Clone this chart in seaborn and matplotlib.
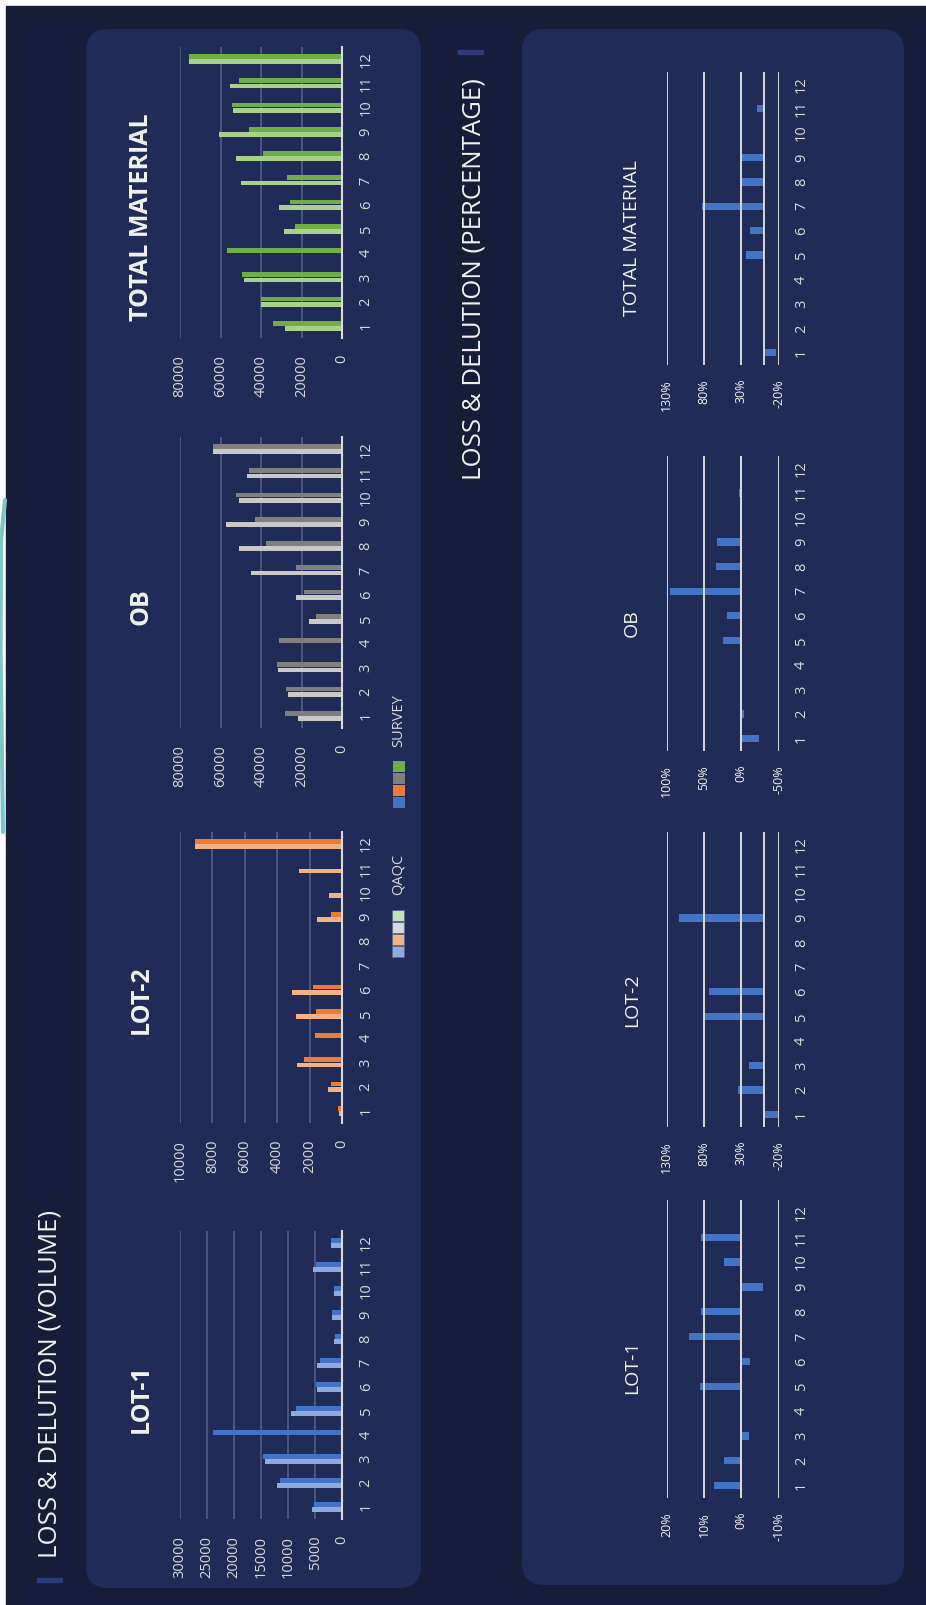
import numpy as np
import pandas as pd
import matplotlib
matplotlib.use("Agg")
import matplotlib.pyplot as plt
import seaborn as sns
from matplotlib.patches import FancyBboxPatch, Rectangle
from matplotlib.lines import Line2D

months = [str(m) for m in range(1, 13)]

lot1_qaqc = [5600, 12000, 14200, 0, 9400, 4650, 4650, 1400, 1900, 1550, 5450, 2050]
lot1_survey = [5100, 11450, 14550, 23950, 8450, 4750, 4150, 1250, 1900, 1400, 4900, 2050]

lot2_qaqc = [160, 880, 2770, 0, 2830, 3090, 0, 0, 1520, 820, 2660, 9080]
lot2_survey = [230, 680, 2320, 1660, 1580, 1780, 0, 0, 680, 0, 0, 9080]

ob_qaqc = [21900, 26500, 31600, 0, 16300, 22700, 44900, 50900, 57300, 50900, 47100, 63500]
ob_survey = [28200, 27800, 32100, 30900, 13000, 18900, 22700, 37700, 43100, 52200, 45800, 63500]

total_qaqc = [28000, 39800, 48600, 0, 28600, 31000, 49900, 52500, 60600, 53800, 55500, 75400]
total_survey = [33900, 40200, 49200, 56800, 23200, 25700, 27000, 39200, 46100, 54200, 50900, 75400]

lot1_pct = [0.073, 0.047, -0.021, 0, 0.111, -0.022, 0.140, 0.108, -0.058, 0.046, 0.108, 0]
lot2_pct = [-0.19, 0.34, 0.20, 0, 0.80, 0.73, 0, 0, 1.13, 0, 0, 0]
ob_pct = [-0.23, -0.04, 0, 0, 0.24, 0.19, 0.96, 0.34, 0.32, -0.015, 0.03, 0]
total_pct = [-0.17, 0, 0, 0, 0.235, 0.186, 0.83, 0.32, 0.30, 0, 0.084, 0]

# ---- style ----
BG = "#171c38"
PANEL = "#212b57"
GRID = "#4f5984"
LIGHT = "#d9d9d9"
TXT = "#f2f2f2"
BLUE = "#4472c4"

sns.set_theme(style="white")
plt.rcParams["font.family"] = ["Open Sans", "DejaVu Sans"]

W, H = 926, 1605
fig = plt.figure(figsize=(W / 100, H / 100), dpi=100, facecolor="white")


def rect(x0, x1, y0, y1):
    # pixel box of the (rotated) picture -> figure fraction
    return [x0 / W, 1 - y1 / H, (x1 - x0) / W, (y1 - y0) / H]


def fy(y):
    return 1 - y / H


# background and panels
fig.add_artist(Rectangle((6 / W, 0), 1 - 6 / W, 1 - 6 / H, transform=fig.transFigure,
                         color=BG, zorder=-10))
for x0, x1, y0, y1 in [(86, 421, 29, 1588), (522, 904, 29, 1585)]:
    fig.add_artist(FancyBboxPatch((x0 / 100, (H - y1) / 100), (x1 - x0) / 100, (y1 - y0) / 100,
                                  boxstyle="round,pad=0,rounding_size=0.22",
                                  transform=fig.dpi_scale_trans, fc=PANEL, ec="none", zorder=-5))

# teal piece of the decoration on the left border
fig.add_artist(Line2D([5 / W, 1 / W, 0.5 / W, 3 / W], [fy(500), fy(540), fy(650), fy(832)],
                      transform=fig.transFigure, color="#7cc6c9", lw=3, zorder=-4))


def volume_chart(box, qaqc, survey, colors, vmax, step, title, title_y):
    df = pd.DataFrame({"month": months * 2, "value": qaqc + survey,
                       "source": ["QAQC"] * 12 + ["SURVEY"] * 12})
    ax = fig.add_axes(rect(*box))
    ax.set_facecolor("none")
    sns.barplot(data=df, x="value", y="month", hue="source", hue_order=["QAQC", "SURVEY"],
                order=months, palette=colors, orient="h", width=0.44, gap=0.08,
                saturation=1, linewidth=0, errorbar=None, legend=False, ax=ax)
    ax.set_xlim(vmax, 0)
    ax.set_ylim(-0.5, 11.5)
    ticks = np.arange(0, vmax + 1, step)
    ax.set_xticks(ticks, labels=[str(t) for t in ticks])
    ax.yaxis.tick_right()
    ax.set_xlabel("")
    ax.set_ylabel("")
    ax.grid(axis="x", color=GRID, lw=1.3)
    ax.set_axisbelow(True)
    for s in ["left", "top", "bottom"]:
        ax.spines[s].set_visible(False)
    ax.spines["right"].set_color(LIGHT)
    ax.spines["right"].set_linewidth(1.5)
    ax.tick_params(axis="x", labelrotation=90, length=0, pad=12, labelsize=10.5, colors=LIGHT)
    ax.tick_params(axis="y", labelrotation=90, length=0, pad=12, labelsize=10.5, colors=LIGHT)
    for lab in ax.get_yticklabels():
        lab.set_va("center")
    fig.text(141 / W, fy(title_y), title, rotation=90, ha="center", va="center",
             fontsize=18, fontweight="bold", color=TXT)
    return ax


def pct_chart(box, vals, lo, hi, step, title, title_y):
    df = pd.DataFrame({"month": months, "value": vals})
    ax = fig.add_axes(rect(*box))
    ax.set_facecolor("none")
    sns.barplot(data=df, x="value", y="month", order=months, color=BLUE, orient="h",
                width=0.3, saturation=1, linewidth=0, errorbar=None, ax=ax)
    ax.set_xlim(hi, lo)
    ax.set_ylim(-0.5, 11.5)
    ticks = np.arange(lo, hi + 1e-9, step)
    ax.set_xticks(ticks, labels=[f"{round(t * 100):d}%" for t in ticks])
    ax.yaxis.tick_right()
    ax.set_xlabel("")
    ax.set_ylabel("")
    ax.grid(axis="x", color=LIGHT, lw=1.4)
    ax.set_axisbelow(False)
    ax.axvline(0, color=LIGHT, lw=1.4, zorder=3)
    for s in ax.spines.values():
        s.set_visible(False)
    ax.tick_params(axis="x", labelrotation=90, length=0, pad=10, labelsize=9, colors=TXT)
    ax.tick_params(axis="y", labelrotation=90, length=0, pad=11, labelsize=10.5, colors=LIGHT)
    for lab in ax.get_yticklabels():
        lab.set_va("center")
    fig.text(632 / W, fy(title_y), title, rotation=90, ha="center", va="center",
             fontsize=14, color=TXT)
    return ax


# volume charts
volume_chart((180, 342, 1231, 1519), lot1_qaqc, lot1_survey, ["#8faadc", BLUE], 30000, 5000, "LOT-1", 1399)
volume_chart((180, 342, 832, 1123), lot2_qaqc, lot2_survey, ["#f4b183", "#ed7d31"], 10000, 2000, "LOT-2", 1000)
volume_chart((180, 342, 437, 728), ob_qaqc, ob_survey, ["#c9c9c9", "#7f7f7f"], 80000, 20000, "OB", 607)
volume_chart((180, 342, 47, 338), total_qaqc, total_survey, ["#a9d18e", "#70ad47"], 80000, 20000,
             "TOTAL MATERIAL", 217)

# percentage charts
pct_chart((666.7, 778.7, 1200, 1498), lot1_pct, -0.1, 0.2, 0.1, "LOT-1", 1367)
pct_chart((666.7, 778.7, 832, 1127), lot2_pct, -0.2, 1.3, 0.5, "LOT-2", 1000)
pct_chart((666.7, 778.7, 456, 751), ob_pct, -0.5, 1.0, 0.5, "OB", 623)
pct_chart((666.7, 778.7, 72, 365), total_pct, -0.2, 1.3, 0.5, "TOTAL MATERIAL", 238)

# section titles
fig.text(50 / W, fy(1558), "LOSS & DELUTION (VOLUME)", rotation=90, ha="center", va="bottom",
         fontsize=18.5, color=TXT)
fig.text(474 / W, fy(480), "LOSS & DELUTION (PERCENTAGE)", rotation=90, ha="center", va="bottom",
         fontsize=18.5, color=TXT)
fig.add_artist(Rectangle((37 / W, fy(1582)), 25 / W, 4 / H, transform=fig.transFigure,
                         color="#2d3a7c"))
fig.add_artist(Rectangle((458 / W, fy(54)), 25 / W, 4 / H, transform=fig.transFigure,
                         color="#2d3a7c"))

# legend
qaqc_cols = ["#8faadc", "#f4b183", "#d9d9d9", "#c5e0b4"]
survey_cols = [BLUE, "#ed7d31", "#7f7f7f", "#70ad47"]
for i, c in enumerate(qaqc_cols):
    fig.add_artist(Rectangle((392 / W, fy(957 - 12 * i)), 12 / W, 11 / H,
                             transform=fig.transFigure, fc=c, ec="#5a6790", lw=0.6))
for i, c in enumerate(survey_cols):
    fig.add_artist(Rectangle((393 / W, fy(808 - 12 * i)), 12 / W, 11 / H,
                             transform=fig.transFigure, fc=c, ec="none"))
fig.text(398 / W, fy(874), "QAQC", rotation=90, ha="center", va="center", fontsize=10.5, color=LIGHT)
fig.text(399 / W, fy(721), "SURVEY", rotation=90, ha="center", va="center", fontsize=10.5, color=LIGHT)

fig.savefig("out.png", dpi=100, facecolor="white")
